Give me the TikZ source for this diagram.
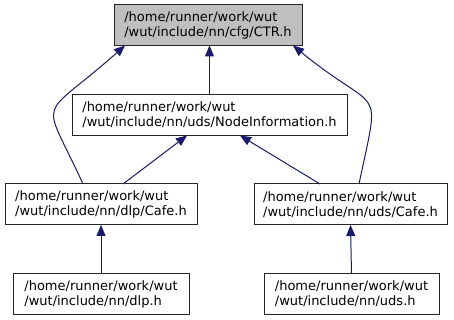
\documentclass[tikz,border=0pt]{standalone}
\usepackage{fontspec}
\setmainfont{DejaVu Sans}
\usetikzlibrary{arrows.meta}
\definecolor{edgeblue}{HTML}{191970}
\definecolor{boxgray}{HTML}{BFBFBF}

\begin{document}
\begin{tikzpicture}[x=1pt,y=1pt,every node/.style={draw,outer sep=0pt,font=\fontsize{13}{15}\selectfont}]

\useasboundingbox (0,0) rectangle (454,320);

\tikzstyle{file}=[draw=black!85,line width=1pt,align=left,minimum height=41pt,inner sep=0pt]
\tikzstyle{edge}=[edgeblue,line width=1pt,{Triangle[length=11pt,width=9pt]}-]

% header files
\node (CTR) at (208,295) [file,fill=boxgray,minimum width=188pt] {/home/runner/work/wut\\/wut/include/nn/cfg/CTR.h};
\node (NodeInfo) at (209.5,205) [file,minimum width=275pt] {/home/runner/work/wut\\/wut/include/nn/uds/NodeInformation.h};
\node (dlpCafe) at (101,115.5) [file,minimum width=192pt] {/home/runner/work/wut\\/wut/include/nn/dlp/Cafe.h};
\node (udsCafe) at (350.5,115.5) [file,minimum width=193pt] {/home/runner/work/wut\\/wut/include/nn/uds/Cafe.h};
\node (dlp) at (101,26) [file,minimum width=176pt] {/home/runner/work/wut\\/wut/include/nn/dlp.h};
\node (uds) at (351.5,26) [file,minimum width=175pt] {/home/runner/work/wut\\/wut/include/nn/uds.h};

% includes, arrow at the included file
\draw[edge] (NodeInfo.north |- CTR.south) -- (NodeInfo.north);
\draw[edge] ([xshift=11pt]CTR.south west) .. controls +(-88,-78) and +(-42,92) .. ([xshift=-18pt]dlpCafe.north);
\draw[edge] ([xshift=-9pt]CTR.south east) .. controls +(88,-72) and +(22,105) .. ([xshift=8.5pt]udsCafe.north);
\draw[edge] ([xshift=-22.5pt]NodeInfo.south) -- ([xshift=22pt]dlpCafe.north);
\draw[edge] ([xshift=30.5pt]NodeInfo.south) -- ([xshift=-30.5pt]udsCafe.north);
\draw[edge] (dlpCafe.south) -- (dlp.north);
\draw[edge] (udsCafe.south) -- (uds.north);
\end{tikzpicture}
\end{document}
